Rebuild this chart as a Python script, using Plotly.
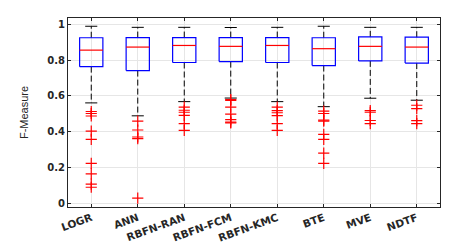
import plotly.graph_objects as go

categories = ["LOGR", "ANN", "RBFN-RAN", "RBFN-FCM", "RBFN-KMC", "BTE", "MVE", "NDTF"]
upper_whisker = [0.988, 0.982, 0.982, 0.981, 0.982, 0.988, 0.982, 0.982]
q3 = [0.924, 0.925, 0.925, 0.925, 0.925, 0.924, 0.929, 0.927]
median = [0.855, 0.872, 0.881, 0.876, 0.881, 0.863, 0.876, 0.872]
q1 = [0.763, 0.741, 0.786, 0.791, 0.786, 0.769, 0.795, 0.783]
lower_whisker = [0.561, 0.489, 0.568, 0.588, 0.568, 0.540, 0.587, 0.576]
outliers = [
    [0.513, 0.502, 0.488, 0.404, 0.358, 0.224, 0.165, 0.109, 0.091],
    [0.460, 0.410, 0.371, 0.362, 0.030],
    [0.538, 0.520, 0.509, 0.492, 0.446, 0.408],
    [0.580, 0.575, 0.538, 0.498, 0.468, 0.454, 0.450],
    [0.537, 0.518, 0.506, 0.490, 0.446, 0.408],
    [0.515, 0.502, 0.465, 0.460, 0.386, 0.358, 0.281, 0.224],
    [0.518, 0.509, 0.463, 0.445],
    [0.548, 0.529, 0.462, 0.445],
]
y_ticks = [0, 0.2, 0.4, 0.6, 0.8, 1]

positions = list(range(1, len(categories) + 1))
half_box = 0.25
half_cap = 0.13

fig = go.Figure()

# whiskers (dashed black)
wx, wy = [], []
for p, lo, a, b, hi in zip(positions, lower_whisker, q1, q3, upper_whisker):
    wx += [p, p, None, p, p, None]
    wy += [b, hi, None, a, lo, None]
fig.add_trace(go.Scatter(x=wx, y=wy, mode="lines",
                         line=dict(color="black", width=1, dash="6px,3px"),
                         hoverinfo="skip", showlegend=False))

# caps
cx, cy = [], []
for p, lo, hi in zip(positions, lower_whisker, upper_whisker):
    cx += [p - half_cap, p + half_cap, None, p - half_cap, p + half_cap, None]
    cy += [hi, hi, None, lo, lo, None]
fig.add_trace(go.Scatter(x=cx, y=cy, mode="lines",
                         line=dict(color="black", width=1),
                         hoverinfo="skip", showlegend=False))

# boxes
bx, by = [], []
for p, a, b in zip(positions, q1, q3):
    bx += [p - half_box, p + half_box, p + half_box, p - half_box, p - half_box, None]
    by += [a, a, b, b, a, None]
fig.add_trace(go.Scatter(x=bx, y=by, mode="lines",
                         line=dict(color="#0000ff", width=1.2),
                         hoverinfo="skip", showlegend=False))

# medians
mx, my = [], []
for p, m in zip(positions, median):
    mx += [p - half_box, p + half_box, None]
    my += [m, m, None]
fig.add_trace(go.Scatter(x=mx, y=my, mode="lines",
                         line=dict(color="#ff0000", width=1.2),
                         hoverinfo="skip", showlegend=False))

# outliers
ox, oy = [], []
for p, outs in zip(positions, outliers):
    for v in outs:
        ox.append(p)
        oy.append(v)
fig.add_trace(go.Scatter(x=ox, y=oy, mode="markers",
                         marker=dict(symbol="cross-thin", size=8,
                                     line=dict(color="#ff0000", width=1.2)),
                         hoverinfo="skip", showlegend=False))

axis_common = dict(showline=True, linecolor="#262626", linewidth=1,
                   mirror="allticks", ticks="inside", ticklen=3,
                   tickcolor="#262626", showgrid=True, gridcolor="#e6e6e6",
                   gridwidth=1, zeroline=False)

fig.update_layout(
    width=463, height=245,
    margin=dict(l=60, r=31, t=9, b=45),
    plot_bgcolor="white", paper_bgcolor="white",
    font=dict(family="DejaVu Sans", size=10, color="#262626"),
    xaxis=dict(range=[0.5, 8.5], tickvals=positions, ticktext=categories,
               tickangle=-20,
               tickfont=dict(family="DejaVu Sans", size=10.5, color="#262626",
                             weight="bold"),
               **axis_common),
    yaxis=dict(range=[-0.019, 1.034], tickvals=y_ticks,
               ticktext=["0", "0.2", "0.4", "0.6", "0.8", "1"],
               tickfont=dict(family="DejaVu Sans", size=10, color="#262626",
                             weight="bold"),
               title=dict(text="F-Measure",
                          font=dict(family="Liberation Sans", size=11,
                                    color="#262626"),
                          standoff=16),
               **axis_common),
)

fig.write_html("out.html")
